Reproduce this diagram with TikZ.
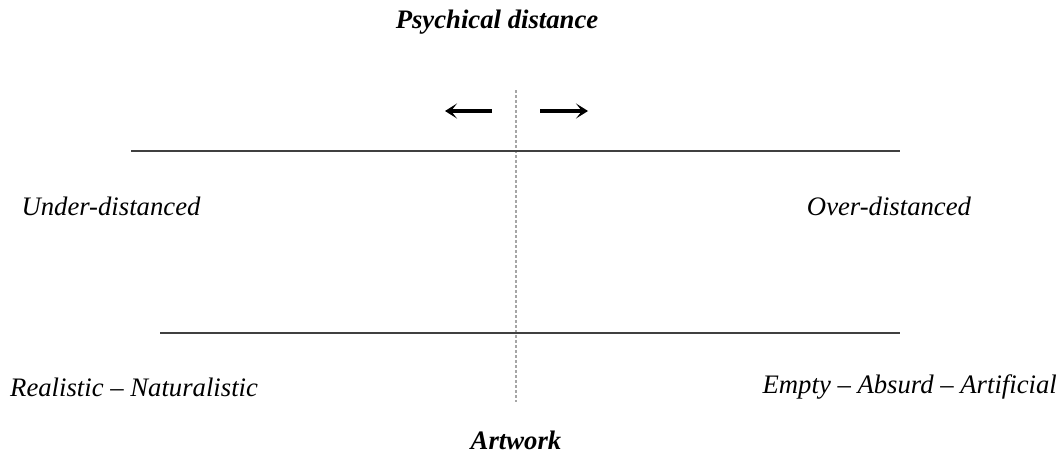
\documentclass[tikz,border=0pt]{standalone}
\usepackage{fontspec}
\setmainfont{Liberation Serif}
\usetikzlibrary{arrows.meta}
\begin{document}
\begin{tikzpicture}[x=1pt,y=-1pt,
  lbl/.style={font=\fontsize{26.7}{30}\selectfont\itshape, inner sep=0pt},
  title/.style={font=\fontsize{26.7}{30}\selectfont\bfseries\itshape, inner sep=0pt},
  hline/.style={draw=black!75, line width=1.2pt},
  vline/.style={draw=black!35, line width=1.2pt, dash pattern=on 3pt off 2pt},
  arr/.style={draw=black, line width=3.4pt, -{Stealth[length=12pt,width=15pt,inset=6pt]}}]
\useasboundingbox (0,0) rectangle (1064,463);
\node[title] (pd) at (497,22) {Psychical distance};
\node[title] (aw) at (516,440) {Artwork};
\coordinate (vt) at (516,90);
\coordinate (vb) at (516,402);
\draw[vline] (vt) -- (vb);
\coordinate (al1) at (492,111);
\coordinate (al2) at (445,111);
\coordinate (ar1) at (540,111);
\coordinate (ar2) at (588,111);
\draw[arr] (al1) -- (al2);
\draw[arr] (ar1) -- (ar2);
\coordinate (t1) at (131,151);
\coordinate (t2) at (900,151);
\coordinate (b1) at (160,333);
\coordinate (b2) at (900,333);
\draw[hline] (t1) -- (t2);
\draw[hline] (b1) -- (b2);
\node[lbl] (ud) at (111,206) {Under-distanced};
\node[lbl] (od) at (889,206) {Over-distanced};
\node[lbl, anchor=west] (rn) at (10,387) {Realistic -- Naturalistic};
\node[lbl, anchor=east] (ea) at (1057,387) {Empty -- Absurd -- Artificial};
\end{tikzpicture}
\end{document}
